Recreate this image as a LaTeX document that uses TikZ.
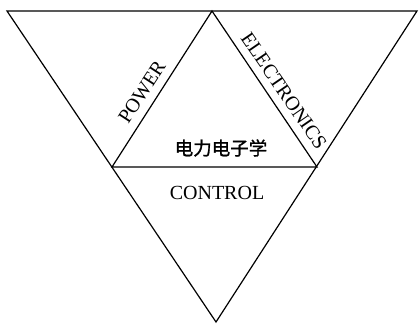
\documentclass[tikz,border=0pt]{standalone}
\usepackage{fontspec}
\setmainfont{Liberation Serif}
\newfontfamily\cjk[FakeBold=1.2]{Noto Sans CJK SC}
\begin{document}
\begin{tikzpicture}[x=1pt,y=-1pt,
  edge/.style={line width=1.2pt,line join=miter},
  lbl/.style={inner sep=0pt,font=\fontsize{20}{22}\selectfont},
  cjklbl/.style={inner sep=0pt,font=\cjk\fontsize{18.5}{20}\selectfont}]
\useasboundingbox (0,0) rectangle (420,325);
\coordinate (TL) at (7,11);
\coordinate (TR) at (417,11);
\coordinate (B) at (216,322);
\coordinate (T) at (212,11);
\coordinate (L) at (112,167);
\coordinate (R) at (317,167);
\draw[edge] (TL) -- (TR) -- (B) -- cycle;
\draw[edge] (L) -- (T) -- (R) -- cycle;
\node[lbl,rotate=57] (power) at (142,92) {POWER};
\node[lbl,rotate=-55.5] (elec) at (284,91) {ELECTRONICS};
\node[cjklbl] (cn) at (221,148) {电力电子学};
\node[lbl] (ctrl) at (217,193) {CONTROL};
\end{tikzpicture}
\end{document}
